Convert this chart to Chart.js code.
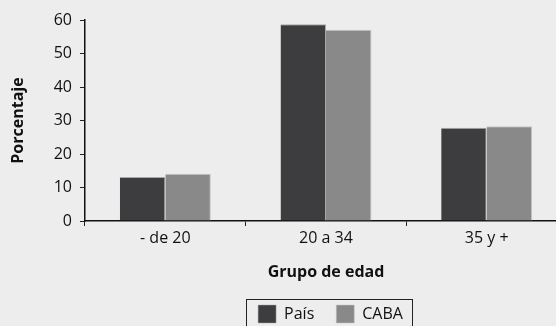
<!DOCTYPE html>
<html>
<head>
<meta charset="utf-8">
<script src="https://cdn.jsdelivr.net/npm/chart.js@4"></script>
<style>
    html, body { margin: 0; padding: 0; background: #ecedec; overflow: hidden; }
    #wrap { width: 570px; height: 326px; }
</style>
</head>
<body>
<div id="wrap"><canvas id="edadChart"></canvas></div>
<script>
const categories = ['- de 20', '20 a 34', '35 y +'];
const paisValues = [13.1, 58.7, 27.8];
const cabaValues = [14.1, 57.1, 28.3];
const yTicks = [0, 10, 20, 30, 40, 50, 60];

const fontFamily = '"Open Sans", "Noto Sans", sans-serif';
const legendPad = 22;

// legend sits right of centre with a box round it, as in the source
const legendFrame = {
    id: 'legendFrame',
    afterLayout(chart) {
        const lg = chart.legend;
        const dx = 47;
        lg.left += dx;
        lg.right += dx;
        const h = lg.bottom - lg.top;
        lg.top = 305 - legendPad;
        lg.bottom = lg.top + h;
    },
    afterDraw(chart) {
        const boxes = chart.legend.legendHitBoxes;
        if (!boxes || !boxes.length) return;
        const left = Math.min(...boxes.map((b) => b.left)) - 12;
        const right = Math.max(...boxes.map((b) => b.left + b.width)) + 9;
        const ctx = chart.ctx;
        ctx.save();
        ctx.strokeStyle = '#222';
        ctx.lineWidth = 1;
        ctx.strokeRect(Math.round(left) + 0.5, 299.5, Math.round(right - left), 40);
        ctx.restore();
    },
};

new Chart(document.getElementById('edadChart'), {
    type: 'bar',
    data: {
        labels: categories,
        datasets: [
            {
                label: 'País',
                data: paisValues,
                backgroundColor: '#3d3d3f',
                borderColor: '#a8a8a8',
                borderWidth: { top: 1, right: 1, left: 0, bottom: 0 },
                borderSkipped: false,
                categoryPercentage: 0.566,
                barPercentage: 1,
            },
            {
                label: 'CABA',
                data: cabaValues,
                backgroundColor: '#89898a',
                borderColor: '#c4c4c4',
                borderWidth: { top: 1, right: 1, left: 0, bottom: 0 },
                borderSkipped: false,
                categoryPercentage: 0.566,
                barPercentage: 1,
            },
        ],
    },
    options: {
        responsive: true,
        maintainAspectRatio: false,
        animation: false,
        layout: { padding: { top: 20, right: 3, left: 0, bottom: 0 } },
        plugins: {
            legend: {
                position: 'bottom',
                labels: {
                    boxWidth: 18,
                    boxHeight: 18,
                    padding: legendPad,
                    color: '#111',
                    font: { family: fontFamily, size: 16 },
                },
            },
            tooltip: { enabled: false },
        },
        scales: {
            x: {
                afterFit: (scale) => { scale.height = 105 - scale.chart.legend.height; },
                ticks: {
                    color: '#111',
                    padding: 3,
                    font: { family: fontFamily, size: 16 },
                },
                grid: { drawOnChartArea: false, tickLength: 5, color: '#222' },
                border: { color: '#111', width: 1.5 },
                title: {
                    display: true,
                    text: 'Grupo de edad',
                    color: '#111',
                    padding: { top: 0, bottom: -2 - (legendPad - 18) },
                    font: { family: fontFamily, size: 16, weight: 'bold' },
                },
            },
            y: {
                min: 0,
                max: 60,
                afterFit: (scale) => { scale.width = 85; },
                afterBuildTicks: (scale) => { scale.ticks = yTicks.map((v) => ({ value: v })); },
                ticks: {
                    color: '#111',
                    padding: 8,
                    font: { family: fontFamily, size: 16 },
                },
                grid: { drawOnChartArea: false, tickLength: 5, color: '#222' },
                border: { color: '#111', width: 1.5 },
                title: {
                    display: true,
                    text: 'Porcentaje',
                    color: '#111',
                    padding: { top: 9, bottom: 0 },
                    font: { family: fontFamily, size: 16, weight: 'bold' },
                },
            },
        },
    },
    plugins: [legendFrame],
});
</script>
</body>
</html>
